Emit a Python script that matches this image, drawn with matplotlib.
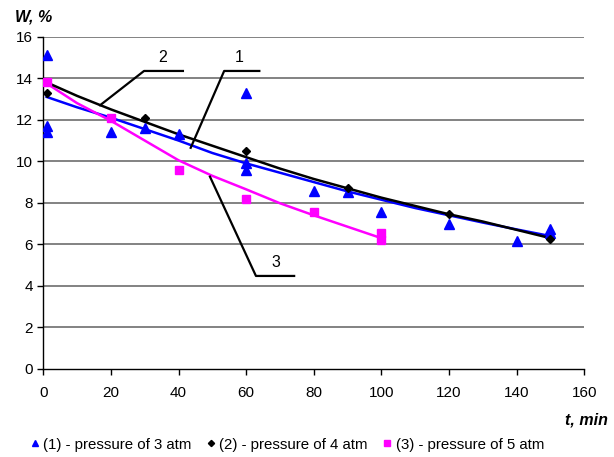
import matplotlib

matplotlib.use("Agg")
import matplotlib.pyplot as plt

plt.rcParams["font.family"] = ["Liberation Sans", "DejaVu Sans"]

# measured points
t1 = [1, 1, 1, 20, 30, 40, 60, 60, 60, 80, 90, 100, 120, 140, 150, 150]
w1 = [15.1, 11.7, 11.4, 11.4, 11.6, 11.3, 13.3, 9.9, 9.6, 8.55, 8.5, 7.57, 6.98, 6.18, 6.72, 6.53]

t2 = [1, 30, 60, 90, 120, 150]
w2 = [13.3, 12.1, 10.5, 8.72, 7.45, 6.28]

t3 = [1, 20, 40, 60, 80, 100, 100]
w3 = [13.8, 12.1, 9.6, 8.17, 7.54, 6.56, 6.21]

# trend curves
trend_t = [1, 10, 20, 30, 40, 50, 60, 70, 80, 90, 100, 110, 120, 130, 140, 150]
trend1 = [13.1, 12.6, 12.1, 11.55, 11.0, 10.4, 9.9, 9.45, 9.0, 8.55, 8.15, 7.75,
          7.4, 7.05, 6.72, 6.4]
trend2 = [13.8, 13.15, 12.5, 11.9, 11.3, 10.75, 10.2, 9.65, 9.15, 8.7, 8.25, 7.85,
          7.45, 7.1, 6.7, 6.3]
trend3_t = [1, 10, 20, 30, 40, 50, 60, 70, 80, 90, 100]
trend3 = [13.75, 12.8, 11.95, 11.0, 10.05, 9.3, 8.65, 7.98, 7.4, 6.85, 6.3]

fig = plt.figure(figsize=(6.14, 4.57), dpi=100)
ax = fig.add_axes([0.0705, 0.1926, 0.881, 0.7271])

ax.set_xlim(0, 160)
ax.set_ylim(0, 16)
ax.set_xticks(range(0, 161, 20))
ax.set_yticks(range(0, 17, 2))
for y in range(2, 17, 2):
    ax.axhline(y, color="#606060", lw=1.1, zorder=0)
ax.spines["top"].set_visible(False)
ax.spines["right"].set_visible(False)
ax.spines["left"].set_linewidth(1.0)
ax.spines["bottom"].set_linewidth(1.0)
ax.tick_params(direction="out", length=4, width=1, labelsize=11, colors="black")
ax.tick_params(axis="x", pad=8)

ax.plot(trend_t, trend1, color="#0000ff", lw=1.8, zorder=2)
ax.plot(trend_t, trend2, color="black", lw=1.8, zorder=3)
ax.plot(trend3_t, trend3, color="#ff00ff", lw=1.8, zorder=2)

ax.plot(t1, w1, ls="none", marker="^", ms=6.5, color="#0000ff", zorder=4,
        label="(1) - pressure of 3 atm")
ax.plot(t2, w2, ls="none", marker="D", ms=4.5, color="black", zorder=5,
        label="(2) - pressure of 4 atm")
ax.plot(t3, w3, ls="none", marker="s", ms=5.5, color="#ff00ff", zorder=4,
        label="(3) - pressure of 5 atm")

# leader lines for curve numbers
ax.plot([16.8, 29.8, 41.3], [12.7, 14.35, 14.35], color="black", lw=1.6, zorder=6)
ax.text(35.4, 15.0, "2", ha="center", va="center", fontsize=11.5)
ax.plot([43.6, 53.5, 63.9], [10.65, 14.35, 14.35], color="black", lw=1.6, zorder=6)
ax.text(58.0, 15.0, "1", ha="center", va="center", fontsize=11.5)
ax.plot([49.3, 62.9, 74.2], [9.26, 4.48, 4.48], color="black", lw=1.6, zorder=6)
ax.text(68.8, 5.15, "3", ha="center", va="center", fontsize=11.5)

fig.text(0.025, 0.962, "W, %", fontsize=11.5, fontweight="bold", fontstyle="italic",
         va="center", ha="left")
fig.text(0.99, 0.08, "t, min", fontsize=11.5, fontweight="bold", fontstyle="italic",
         va="center", ha="right")

fig.legend(loc="center", bbox_to_anchor=(0.468, 0.027), ncol=3, frameon=False,
           fontsize=10.8, handlelength=0.6, handletextpad=0.25, columnspacing=1.0,
           markerscale=0.7)

fig.savefig("out.png", dpi=100)
